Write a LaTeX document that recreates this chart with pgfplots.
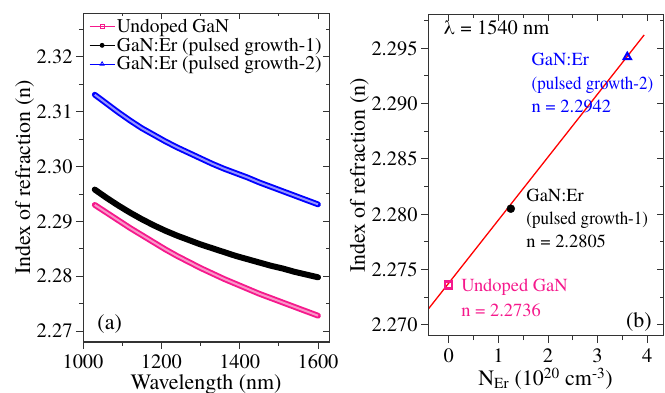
\documentclass[border=0pt]{standalone}
\usepackage{pgfplots}
\pgfplotsset{compat=1.18}
\usepackage{pgfplotstable}
\usepackage{fontspec}
\setmainfont{texgyretermes}[Extension=.otf, UprightFont=*-regular, BoldFont=*-bold, ItalicFont=*-italic, BoldItalicFont=*-bolditalic]
\definecolor{pinkc}{RGB}{245,25,140}
\definecolor{pinkl}{RGB}{250,150,200}
\definecolor{bluel}{RGB}{150,150,255}

\pgfplotstableread{
lam undoped pg1 pg2
1030 2.2930 2.2958 2.3131
1060 2.2916 2.2943 2.3115
1090 2.2902 2.2929 2.3099
1120 2.2888 2.2916 2.3084
1150 2.2875 2.2904 2.3070
1180 2.2862 2.2893 2.3058
1210 2.2849 2.2883 2.3046
1240 2.2837 2.2874 2.3035
1270 2.2826 2.2866 2.3025
1300 2.2815 2.2858 2.3015
1330 2.2805 2.2851 2.3005
1360 2.2795 2.2844 2.2996
1390 2.2786 2.2837 2.2988
1420 2.2777 2.2831 2.2980
1450 2.2768 2.2825 2.2971
1480 2.2760 2.2819 2.2963
1510 2.2752 2.2814 2.2955
1540 2.2744 2.2808 2.2947
1570 2.2736 2.2803 2.2939
1600 2.2728 2.2798 2.2931
}\curves

\newcommand{\tickfont}{\fontsize{20.5}{24}\selectfont}
\newcommand{\labfont}{\fontsize{22}{26}\selectfont}
\newcommand{\legfont}{\fontsize{19.5}{23}\selectfont}
\newcommand{\annfont}{\fontsize{18.5}{22}\selectfont}
\newcommand{\narrow}[1]{\scalebox{0.92}[1]{#1}}

\pgfplotsset{
  base/.style={
    scale only axis,
    anchor=south west,
    axis line style={line width=1bp, black!80},
    tick style={line width=0.9bp, black!80},
    major tick length=7bp,
    minor tick length=4bp,
    tick label style={font=\tickfont},
    xticklabel style={yshift=-2.5bp},
    label style={font=\labfont},
    /pgf/number format/assume math mode=true,
    /pgf/number format/fixed,
    /pgf/number format/fixed zerofill,
    scaled y ticks=false,
    scaled x ticks=false,
  },
  mirror/.style={
    scale only axis,
    anchor=south west,
    axis line style={line width=1bp, black!80},
    tick style={line width=0.9bp, black!80},
    major tick length=6bp,
    minor tick length=3.5bp,
    xtick pos=right, ytick pos=right,
    tick align=inside,
    xticklabels={}, yticklabels={},
  },
}

\begin{document}
\begin{tikzpicture}
\useasboundingbox (0,0) rectangle (665bp,393bp);

% ---------- panel (a) ----------
\begin{axis}[base,
  at={(83bp,51bp)}, width=246bp, height=329bp,
  xmin=1000, xmax=1628, ymin=2.268, ymax=2.328,
  xtick={1000,1200,1400,1600}, minor xtick={1100,1300,1500},
  ytick={2.27,2.28,2.29,2.30,2.31,2.32},
  minor ytick={2.275,2.285,2.295,2.305,2.315,2.325},
  xtick pos=bottom, ytick pos=left, tick align=outside,
  xticklabel style={/pgf/number format/fixed zerofill=false, /pgf/number format/1000 sep={}},
  yticklabel style={/pgf/number format/precision=2},
  xlabel={Wavelength (nm)}, ylabel={Index of refraction (n)},
  xlabel style={yshift=2bp}, ylabel style={yshift=-4bp},
  legend style={at={(axis description cs:0.0,1.0)}, anchor=north west, draw=none, fill=none,
    font=\legfont, row sep=0bp, inner sep=1bp, xshift=5bp, yshift=-3bp,
    /tikz/every even column/.append style={column sep=2bp}},
  legend cell align=left,
  legend image code/.code={\draw[mark repeat=2, mark phase=2, #1] plot coordinates {(0bp,0bp) (12.5bp,0bp) (25bp,0bp)};},
]
\addlegendimage{color=pinkc, line width=0.8bp, mark=square, mark size=2bp, mark options={solid, fill=white, line width=0.8bp}}
\addlegendentry{Undoped GaN}
\addlegendimage{color=black, line width=0.8bp, mark=*, mark size=2bp}
\addlegendentry{GaN:Er (pulsed growth-1)}
\addlegendimage{color=blue, line width=0.8bp, mark=triangle, mark size=2.3bp, mark options={solid, fill=white, line width=0.8bp}}
\addlegendentry{GaN:Er (pulsed growth-2)}

\addplot[pinkc, line width=5.8bp, line cap=round, forget plot] table[x=lam, y=undoped] {\curves};
\addplot[pinkl, line width=2bp, forget plot] table[x=lam, y=undoped] {\curves};
\addplot[black, line width=6bp, line cap=round, forget plot] table[x=lam, y=pg1] {\curves};
\addplot[blue, line width=5.8bp, line cap=round, forget plot] table[x=lam, y=pg2] {\curves};
\addplot[bluel, line width=2bp, forget plot] table[x=lam, y=pg2] {\curves};

\node[anchor=base west, font=\labfont] at (axis cs:1028,2.2702) {(a)};
\end{axis}
\begin{axis}[mirror,
  at={(83bp,51bp)}, width=246bp, height=329bp,
  xmin=1000, xmax=1628, ymin=2.268, ymax=2.328,
  xtick={1000,1200,1400,1600}, minor xtick={1100,1300,1500},
  ytick={2.27,2.28,2.29,2.30,2.31,2.32},
  minor ytick={2.275,2.285,2.295,2.305,2.315,2.325},
]
\end{axis}

% ---------- panel (b) ----------
\begin{axis}[base,
  at={(428bp,57bp)}, width=235bp, height=321bp,
  xmin=-0.42, xmax=4.32, ymin=2.269, ymax=2.298,
  xtick={0,1,2,3,4}, minor xtick={-0.5,0.5,1.5,2.5,3.5},
  ytick={2.270,2.275,2.280,2.285,2.290,2.295},
  minor ytick={2.2725,2.2775,2.2825,2.2875,2.2925,2.2975},
  xtick pos=bottom, ytick pos=left, tick align=outside,
  xticklabel style={/pgf/number format/fixed zerofill=false, /pgf/number format/precision=0},
  yticklabel style={/pgf/number format/precision=3},
  xlabel={N\textsubscript{Er} (10\textsuperscript{20} cm\textsuperscript{-3})},
  ylabel={Index of refraction (n)},
  xlabel style={yshift=2bp}, ylabel style={yshift=-4bp},
  clip=true,
]
\addplot[red, line width=1.3bp] coordinates {(-0.42,2.2714) (3.94,2.2962)};
\addplot[only marks, mark=square, mark size=3.5bp, pinkc, line width=2.2bp, mark options={fill=white}] coordinates {(0,2.2736)};
\addplot[only marks, mark=*, mark size=4bp, black] coordinates {(1.25,2.2805)};
\addplot[only marks, mark=triangle, mark size=4.3bp, blue, line width=2bp, mark options={fill=white}] coordinates {(3.6,2.2942)};

\node[anchor=base west, font=\tickfont] at (axis cs:-0.18,2.2962) {λ = 1540 nm};
\node[anchor=base west, font=\annfont, text=blue] at (axis cs:1.60,2.29347) {GaN:Er};
\node[anchor=base west, font=\annfont, text=blue] at (axis cs:1.60,2.2913) {\narrow{(pulsed growth-2)}};
\node[anchor=base west, font=\annfont, text=blue] at (axis cs:1.60,2.28922) {n = 2.2942};
\node[anchor=base west, font=\annfont] at (axis cs:1.495,2.28119) {GaN:Er};
\node[anchor=base west, font=\annfont] at (axis cs:1.495,2.27903) {\narrow{(pulsed growth-1)}};
\node[anchor=base west, font=\annfont] at (axis cs:1.495,2.27704) {n = 2.2805};
\node[anchor=base west, font=\annfont, text=pinkc] at (axis cs:0.18,2.27298) {Undoped GaN};
\node[anchor=base west, font=\annfont, text=pinkc] at (axis cs:0.18,2.27072) {n = 2.2736};
\node[anchor=base east, font=\labfont] at (axis cs:4.16,2.26973) {(b)};
\end{axis}
\begin{axis}[mirror,
  at={(428bp,57bp)}, width=235bp, height=321bp,
  xmin=-0.42, xmax=4.32, ymin=2.269, ymax=2.298,
  xtick={0,1,2,3,4}, minor xtick={0.5,1.5,2.5,3.5},
  ytick={2.270,2.275,2.280,2.285,2.290,2.295},
  minor ytick={2.2725,2.2775,2.2825,2.2875,2.2925,2.2975},
]
\end{axis}
\end{tikzpicture}
\end{document}
